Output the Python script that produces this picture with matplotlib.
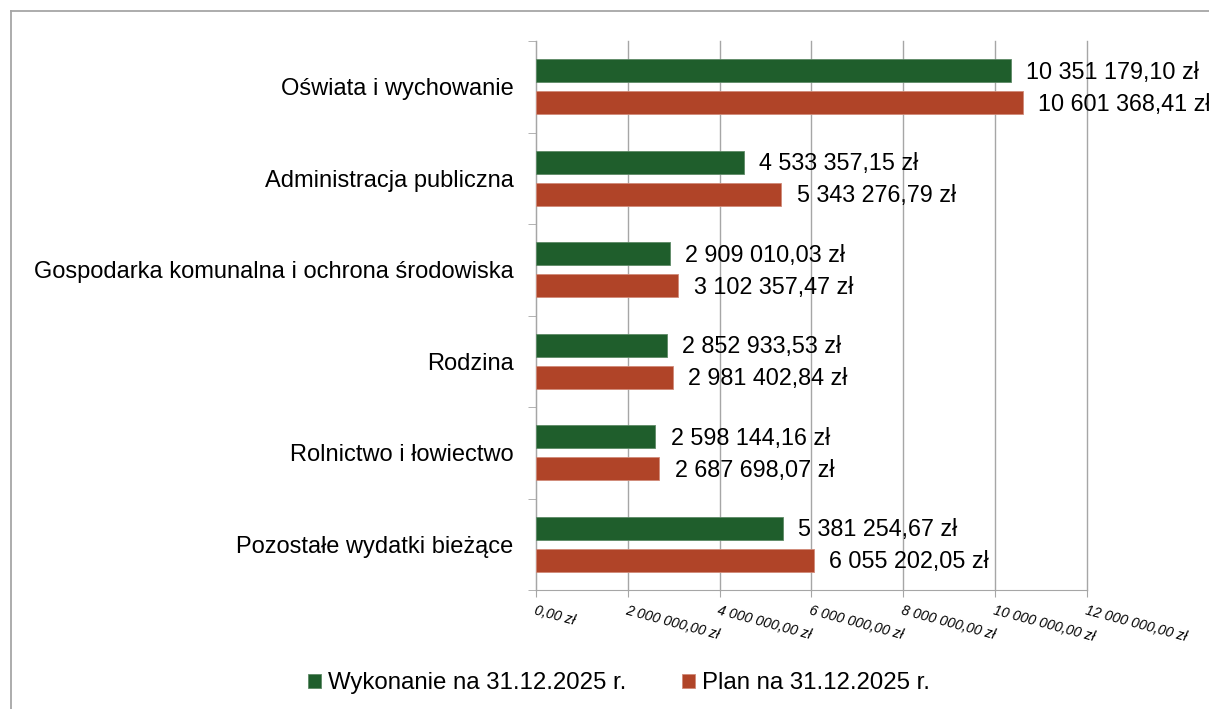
import numpy as np
import matplotlib.pyplot as plt
from matplotlib.lines import Line2D
from matplotlib.ticker import FuncFormatter

categories = ['Oświata i wychowanie', 'Administracja publiczna',
              'Gospodarka komunalna i ochrona środowiska', 'Rodzina',
              'Rolnictwo i łowiectwo', 'Pozostałe wydatki bieżące']
wykonanie = [10351179.10, 4533357.15, 2909010.03, 2852933.53, 2598144.16, 5381254.67]
plan = [10601368.41, 5343276.79, 3102357.47, 2981402.84, 2687698.07, 6055202.05]
series_names = ['Wykonanie na 31.12.2025 r.', 'Plan na 31.12.2025 r.']
x_ticks = [0, 2e6, 4e6, 6e6, 8e6, 10e6, 12e6]

green = '#1f5e2c'
red = '#b04428'
gray = '#a6a6a6'

plt.rcParams['font.family'] = ['Liberation Sans', 'DejaVu Sans']


def pln(v):
    s = f'{v:,.2f}'.replace(',', ' ').replace('.', ',')
    return s + ' zł'


fig = plt.figure(figsize=(12.09, 7.09), dpi=100)
ax = fig.add_axes([0.4433, 0.1678, 0.4557, 0.7743])

y = np.arange(len(categories))
h = 0.255
b1 = ax.barh(y - 0.175, wykonanie, height=h, color=green, edgecolor='#5d8a66',
             linewidth=0.6, label=series_names[0], zorder=3)
b2 = ax.barh(y + 0.175, plan, height=h, color=red, edgecolor='#d08a78',
             linewidth=0.6, label=series_names[1], zorder=3)

for bars, vals in ((b1, wykonanie), (b2, plan)):
    for bar, v in zip(bars, vals):
        ax.annotate(pln(v), (v, bar.get_y() + bar.get_height() / 2),
                    xytext=(11, -1), textcoords='offset points',
                    ha='left', va='center', fontsize=16.8,
                    annotation_clip=False, zorder=4)

ax.set_xlim(0, 12e6)
ax.set_ylim(len(categories) - 0.5, -0.5)
ax.set_xticks(x_ticks)
ax.xaxis.set_major_formatter(FuncFormatter(lambda v, p: pln(v)))
for lbl in ax.get_xticklabels():
    lbl.set_rotation(-15)
    lbl.set_ha('left')
    lbl.set_va('top')
    lbl.set_rotation_mode('anchor')
    lbl.set_fontstyle('italic')
    lbl.set_fontsize(10.2)
ax.tick_params(axis='x', length=5, color=gray, pad=5)
ax.grid(axis='x', color=gray, linewidth=1, zorder=0)
for gl in ax.get_xgridlines():
    gl.set_clip_on(False)

ax.set_yticks(y)
ax.set_yticklabels(categories, fontsize=17)
ax.set_yticks(np.arange(len(categories) + 1) - 0.5, minor=True)
ax.tick_params(axis='y', which='major', length=0, pad=16)
ax.tick_params(axis='y', which='minor', length=6, color=gray)

for side in ('top', 'right'):
    ax.spines[side].set_visible(False)
for side in ('left', 'bottom'):
    ax.spines[side].set_color(gray)

fig.legend(handles=[b1, b2], labels=series_names, loc='center',
           bbox_to_anchor=(0.512, 0.036), ncol=2, frameon=False,
           fontsize=17.3, handlelength=0.55, handleheight=0.55,
           handletextpad=0.3, columnspacing=2.3)

# outer chart frame (clipped on right and bottom)
fig.add_artist(Line2D([11 / 1209, 11 / 1209], [0, 1 - 11 / 709],
                      color=gray, linewidth=1.3))
fig.add_artist(Line2D([11 / 1209, 1], [1 - 11 / 709, 1 - 11 / 709],
                      color=gray, linewidth=1.3))

fig.savefig('out.png', dpi=100)
